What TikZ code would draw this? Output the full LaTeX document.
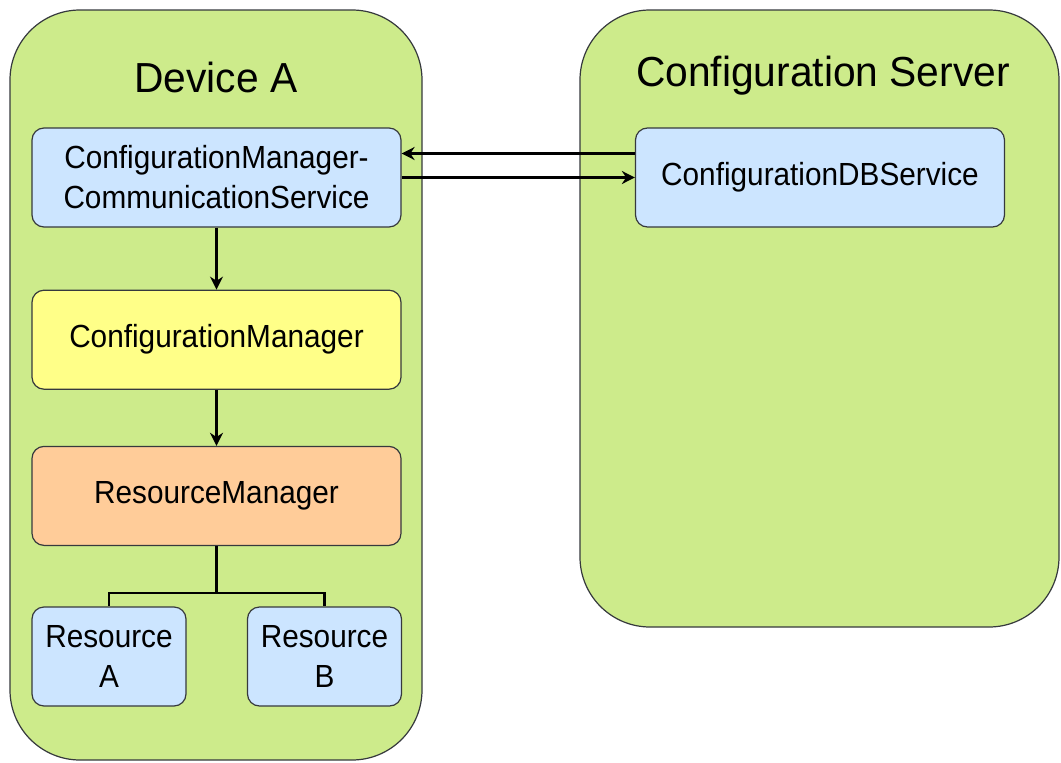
\documentclass[tikz,border=0pt]{standalone}
\usepackage{fontspec}
\setmainfont{Liberation Sans}
\newfontfamily\boxfont[FakeStretch=0.93]{Liberation Sans}
\newfontfamily\titlefont[FakeStretch=0.97]{Liberation Sans}
\usetikzlibrary{arrows.meta,positioning}

\definecolor{groupgreen}{HTML}{CDEB8B}
\definecolor{svcblue}{HTML}{CCE5FF}
\definecolor{mgryellow}{HTML}{FFFF88}
\definecolor{resorange}{HTML}{FFCC99}
\definecolor{edgegray}{HTML}{36393D}

\begin{document}
\begin{tikzpicture}[x=1pt,y=-1pt,>={Stealth[length=13pt,width=13pt]},line width=2.2pt,
    group/.style={draw=edgegray,fill=groupgreen,line width=1.2pt,rounded corners=70pt,inner sep=0pt},
    title/.style={font=\titlefont\fontsize{42}{50}\selectfont},
    box/.style={draw=edgegray,line width=1.2pt,rounded corners=12pt,minimum height=99pt,inner sep=0pt,align=center,font=\boxfont\fontsize{32}{40}\selectfont},
    wide box/.style={box,minimum width=369pt},
    small box/.style={box,minimum width=154pt}]

    \useasboundingbox (0,0) rectangle (1061,763);

    % the two groups
    \node[group, minimum width=412pt, minimum height=750pt] (deva) at (216,385){};
    \node[group, minimum width=479pt, minimum height=617pt] (server) at (819.5,318.5){};
    \node[title] (devatitle) at (216,77){Device A};
    \node[title] (servertitle) at (823,76){Configuration Server};

    % services on the device
    \node[wide box, fill=svcblue] (cmcs) at (216.5,177.5){ConfigurationManager-\\CommunicationService};
    \node[wide box, fill=mgryellow] (cm) [below = 62pt of cmcs]{ConfigurationManager};
    \node[wide box, fill=resorange] (rm) [below = 56pt of cm]{ResourceManager};
    \node[small box, fill=svcblue] (resa) at (109,656.5){Resource\\A};
    \node[small box, fill=svcblue] (resb) at (324.5,656.5){Resource\\B};

    % service on the server
    \node[wide box, fill=svcblue] (cdb) at (820,177.5){ConfigurationDBService};

    \draw[->] ([yshift=24pt]cdb.west) to ([yshift=24pt]cmcs.east);
    \draw[->] (cmcs.east) to (cdb.west);
    \draw[->] (cmcs) to (cm);
    \draw[->] (cm) to (rm);

    \coordinate (split) at ([yshift=-47pt]rm.south);
    \draw[-] (rm.south) to (split) -| (resa.north);
    \draw[-] (split) -| (resb.north);
\end{tikzpicture}
\end{document}
